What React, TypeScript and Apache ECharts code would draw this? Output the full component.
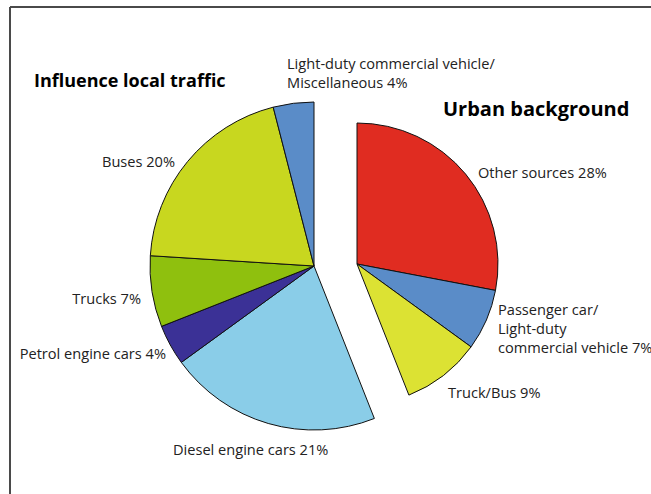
import React, { useEffect, useRef } from "react";
import * as echarts from "echarts";

// Left pie ("Influence local traffic"), listed clockwise from the gap
const localNames = [
  "Diesel engine cars",
  "Petrol engine cars",
  "Trucks",
  "Buses",
  "Light-duty commercial vehicle/\nMiscellaneous",
];
const localValues = [21, 4, 7, 20, 4];
const localColors = ["#8acde8", "#3b3196", "#8fc00e", "#c8d71f", "#5a8cc8"];

// Right pie ("Urban background"), listed clockwise from 12 o'clock
const urbanNames = [
  "Other sources",
  "Passenger car/\nLight-duty\ncommercial vehicle",
  "Truck/Bus",
];
const urbanValues = [28, 7, 9];
const urbanColors = ["#e02c21", "#5a8cc8", "#dce233"];

const titles = ["Influence local traffic", "Urban background"];

// label anchor positions (text placement only)
const labelPos: Record<string, { x: number; y: number; align: string }> = {
  "Diesel engine cars": { x: 173, y: 449, align: "left" },
  "Petrol engine cars": { x: 166, y: 353, align: "right" },
  Trucks: { x: 141, y: 298, align: "right" },
  Buses: { x: 175, y: 161, align: "right" },
  "Light-duty commercial vehicle/\nMiscellaneous": { x: 287, y: 72, align: "left" },
  "Other sources": { x: 478, y: 172, align: "left" },
  "Passenger car/\nLight-duty\ncommercial vehicle": { x: 498, y: 328, align: "left" },
  "Truck/Bus": { x: 448, y: 392, align: "left" },
};

const sum = (a: number[]) => a.reduce((s, v) => s + v, 0);

export default function App() {
  const ref = useRef<HTMLDivElement>(null);
  useEffect(() => {
    document.body.style.margin = "0";
    const chart = echarts.init(ref.current!, null, { renderer: "svg" });
    const font = "'Open Sans', 'DejaVu Sans', sans-serif";
    const hidden = {
      itemStyle: { color: "rgba(0,0,0,0)", borderWidth: 0 },
      label: { show: false },
    };
    const localData = [
      { name: "_gap_local", value: sum(urbanValues), ...hidden },
      ...localNames.map((n, i) => ({
        name: n,
        value: localValues[i],
        itemStyle: { color: localColors[i] },
      })),
    ];
    const urbanData = [
      ...urbanNames.map((n, i) => ({
        name: n,
        value: urbanValues[i],
        itemStyle: { color: urbanColors[i] },
      })),
      { name: "_gap_urban", value: sum(localValues), ...hidden },
    ];
    const common = {
      type: "pie",
      startAngle: 90,
      clockwise: true,
      avoidLabelOverlap: false,
      silent: true,
      itemStyle: { borderColor: "#111", borderWidth: 1 },
      label: {
        show: true,
        position: "outside",
        formatter: "{b} {c}%",
        fontFamily: font,
        fontSize: 14.6,
        lineHeight: 19,
        color: "#222",
      },
      labelLine: { show: false },
      labelLayout: (p: any) => {
        const key = Object.keys(labelPos).find(
          (k) => p.text && p.text.startsWith(k.split("\n")[0])
        );
        const pos = key ? labelPos[key] : null;
        if (!pos) return {};
        return { x: pos.x, y: pos.y, align: pos.align, verticalAlign: "middle" };
      },
      emphasis: { disabled: true },
    };
    chart.setOption({
      animation: false,
      backgroundColor: "#fff",
      series: [
        { ...common, name: "local", center: [314, 266], radius: 164, data: localData },
        { ...common, name: "urban", center: [357, 264], radius: 141, data: urbanData },
      ],
      graphic: [
        {
          type: "line",
          shape: { x1: 10, y1: 7, x2: 651, y2: 7 },
          style: { stroke: "#4a4a4a", lineWidth: 2 },
        },
        {
          type: "line",
          shape: { x1: 10, y1: 7, x2: 10, y2: 494 },
          style: { stroke: "#4a4a4a", lineWidth: 2 },
        },
        {
          type: "text",
          x: 34,
          y: 80,
          style: {
            text: titles[0],
            font: `bold 18px ${font}`,
            fill: "#000",
            textVerticalAlign: "middle",
          },
        },
        {
          type: "text",
          x: 443,
          y: 108,
          style: {
            text: titles[1],
            font: `bold 20px ${font}`,
            fill: "#000",
            textVerticalAlign: "middle",
          },
        },
      ],
    });
    return () => chart.dispose();
  }, []);
  return (
    <div
      ref={ref}
      style={{ position: "fixed", left: 0, top: 0, width: 651, height: 494 }}
    />
  );
}
